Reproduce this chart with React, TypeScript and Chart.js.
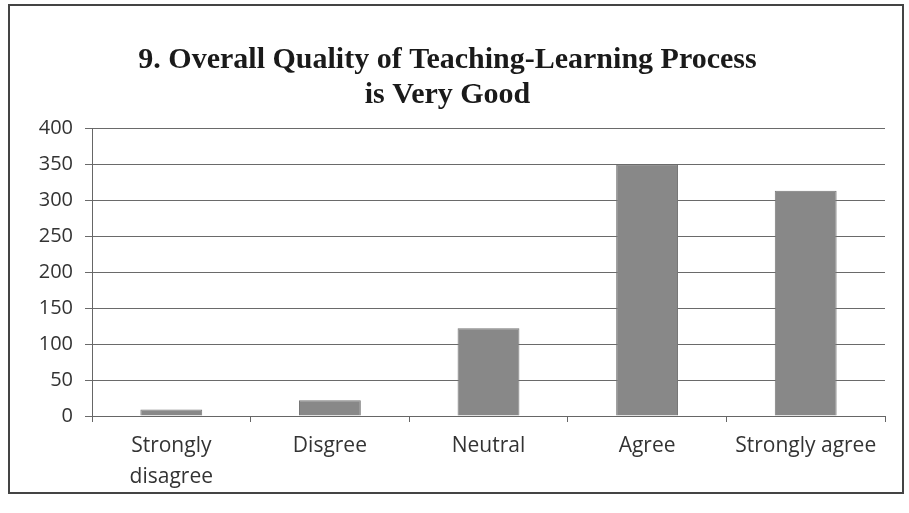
import React, { useEffect, useRef } from "react";
import { Chart, registerables } from "chart.js";

Chart.register(...registerables);

const categories: (string | string[])[] = [["Strongly", "disagree"], "Disgree", "Neutral", "Agree", "Strongly agree"];
const responses: number[] = [9, 22, 122, 349, 313];
const yTicks: number[] = [0, 50, 100, 150, 200, 250, 300, 350, 400];
const titleLines: string[] = ["9. Overall Quality of Teaching-Learning Process", "is Very Good"];

export default function App() {
  const ref = useRef<HTMLCanvasElement | null>(null);
  useEffect(() => {
    if (!ref.current) return;
    const chart = new Chart(ref.current, {
      type: "bar",
      data: {
        labels: categories,
        datasets: [
          {
            data: responses,
            backgroundColor: "#888888",
            borderColor: "#777777",
            borderWidth: 1,
            categoryPercentage: 1,
            barPercentage: 0.39,
          },
        ],
      },
      options: {
        animation: false,
        responsive: false,
        maintainAspectRatio: false,
        layout: { padding: { left: 0, right: 17, top: 0, bottom: 0 } },
        plugins: {
          legend: { display: false },
          tooltip: { enabled: false },
          title: {
            display: true,
            text: titleLines,
            color: "#1a1a1a",
            font: { family: "'Liberation Serif', 'Times New Roman', serif", size: 30, weight: "bold", lineHeight: 1.15 },
            padding: { top: 37, bottom: 16 },
          },
        },
        scales: {
          x: {
            grid: { drawOnChartArea: false, drawTicks: true, tickLength: 6, color: "#666" },
            border: { display: true, color: "#666", width: 1 },
            ticks: {
              color: "#333",
              font: { family: "'Open Sans', sans-serif", size: 21, lineHeight: 1.45 },
              padding: 9,
              maxRotation: 0,
              autoSkip: false,
            },
            afterFit: (s: any) => {
              s.height = 76;
            },
          },
          y: {
            min: 0,
            max: 400,
            afterBuildTicks: (s: any) => {
              s.ticks = yTicks.map((v) => ({ value: v }));
            },
            grid: { color: "#6a6a6a", tickLength: 7, lineWidth: 1 },
            border: { display: true, color: "#666", width: 1 },
            ticks: {
              color: "#333",
              font: { family: "'Open Sans', sans-serif", size: 20 },
              padding: 12,
            },
            afterFit: (s: any) => {
              s.width = 82;
            },
          },
        },
      },
    });
    return () => chart.destroy();
  }, []);
  return (
    <div
      style={{
        position: "absolute",
        left: 8,
        top: 4,
        width: 896,
        height: 490,
        border: "2px solid #444",
        boxSizing: "border-box",
        background: "#fff",
      }}
    >
      <canvas ref={ref} width={892} height={486} style={{ display: "block" }} />
    </div>
  );
}
